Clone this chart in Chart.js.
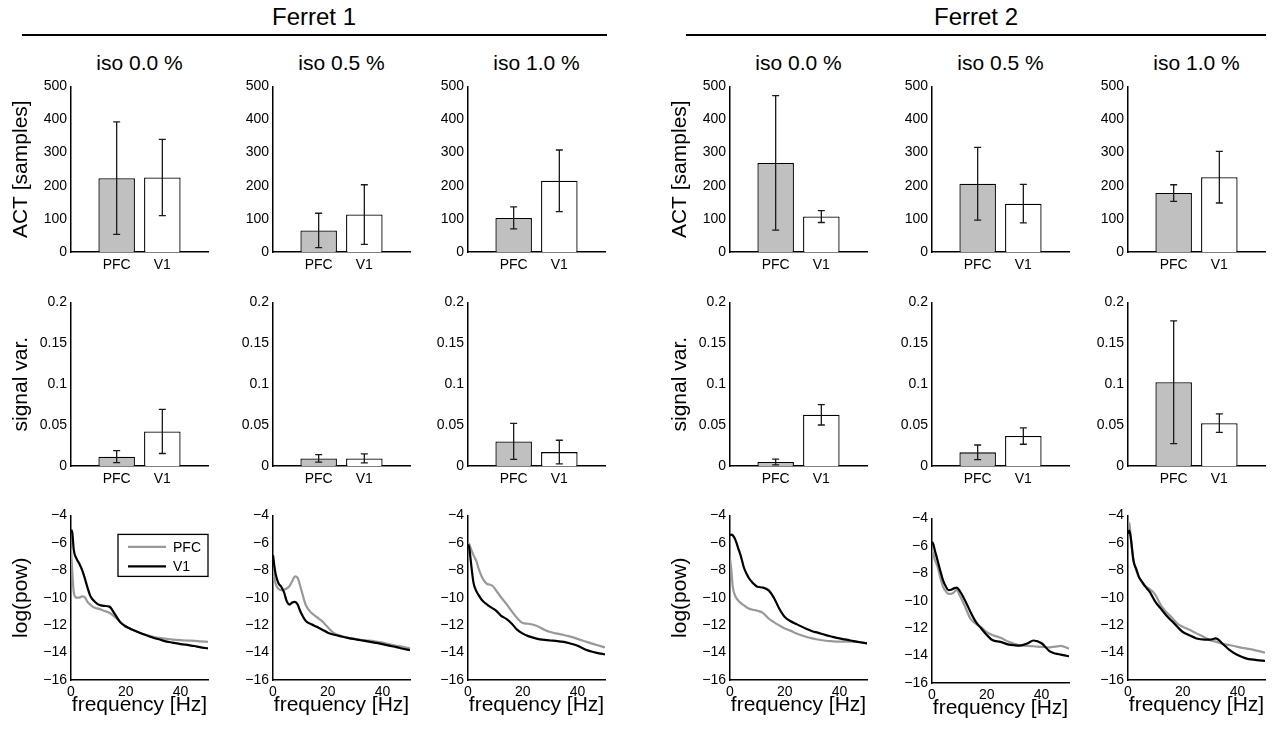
<!DOCTYPE html>
<html lang="en">
<head>
<meta charset="UTF-8">
<title>Ferret ACT, signal variance and spectra</title>
<script src="https://cdn.jsdelivr.net/npm/chart.js@4"></script>
<style>
  body { margin: 0; background: #fff; font-family: 'Liberation Sans', Arial, Helvetica, sans-serif; }
  #fig { position: relative; width: 1288px; height: 733px; overflow: hidden; }
  .panel { position: absolute; }
  .txt { position: absolute; white-space: nowrap; line-height: 1; color: #000; transform: translateX(-50%); }
  .rule { position: absolute; height: 2px; background: #000; }
</style>
</head>
<body>
<div id="fig"></div>

<script>
// ---- data ----
const ferretLabels = ['Ferret 1', 'Ferret 2'];
const isoLabels = ['iso 0.0 %', 'iso 0.5 %', 'iso 1.0 %'];
const barLabels = ['PFC', 'V1'];

// order of panels: F1 iso0.0, F1 iso0.5, F1 iso1.0, F2 iso0.0, F2 iso0.5, F2 iso1.0
const actPFC    = [223, 65, 103, 269, 206, 178];
const actPFCErr = [170, 52, 33, 203, 110, 25];
const actV1     = [225, 113, 215, 107, 146, 226];
const actV1Err  = [115, 90, 93, 18, 58, 78];

const varPFC    = [0.0114, 0.0093, 0.030, 0.0049, 0.0167, 0.1024];
const varPFCErr = [0.0073, 0.0045, 0.022, 0.0035, 0.009, 0.075];
const varV1     = [0.0423, 0.0093, 0.017, 0.0626, 0.0366, 0.0524];
const varV1Err  = [0.027, 0.0055, 0.0145, 0.0125, 0.010, 0.0113];

const freqHz = [0, 0.5, 1, 2, 3, 4, 5, 6, 7, 8, 9, 10, 12, 14, 16, 18, 20, 22, 25, 28, 30, 32, 35, 37, 40, 43, 45, 47, 50];

const powPFC = [
  [-6.4, -8.2, -9.6, -10.0, -10.0, -9.9, -9.95, -10.3, -10.5, -10.67, -10.75, -10.8, -10.95, -11.1, -11.4, -11.75, -12.1, -12.3, -12.55, -12.75, -12.85, -12.92, -13.0, -13.05, -13.1, -13.13, -13.15, -13.18, -13.22],
  [-7.0, -8.5, -9.0, -9.35, -9.45, -9.42, -9.33, -9.15, -8.8, -8.45, -8.55, -9.2, -10.55, -11.1, -11.42, -11.73, -12.15, -12.55, -12.8, -12.95, -13.0, -13.07, -13.13, -13.18, -13.28, -13.42, -13.5, -13.57, -13.7],
  [-6.0, -6.1, -6.4, -6.9, -7.3, -7.95, -8.45, -8.8, -9.0, -9.05, -9.15, -9.4, -9.95, -10.45, -11.0, -11.5, -11.85, -11.9, -12.05, -12.35, -12.5, -12.6, -12.72, -12.82, -13.0, -13.2, -13.33, -13.45, -13.62],
  [-7.15, -8.0, -9.2, -9.9, -10.2, -10.4, -10.55, -10.7, -10.8, -10.86, -10.9, -10.95, -11.1, -11.5, -11.78, -12.02, -12.24, -12.4, -12.66, -12.86, -12.97, -13.05, -13.14, -13.17, -13.2, -13.2, -13.2, -13.25, -13.33],
  [-6.3, -6.6, -7.0, -7.5, -8.3, -8.98, -9.3, -9.5, -9.5, -9.4, -9.2, -9.57, -10.4, -11.3, -11.67, -11.95, -12.3, -12.5, -12.7, -13.0, -13.15, -13.25, -13.3, -13.32, -13.37, -13.4, -13.35, -13.3, -13.5],
  [-4.5, -4.6, -5.6, -7.3, -8.0, -8.5, -8.85, -9.1, -9.25, -9.4, -9.55, -9.8, -10.55, -11.05, -11.45, -11.88, -12.12, -12.3, -12.6, -12.9, -13.1, -13.2, -13.38, -13.45, -13.58, -13.7, -13.77, -13.86, -14.0]
];
const powV1 = [
  [-5.04, -5.3, -6.5, -7.15, -7.5, -7.95, -8.55, -9.25, -9.85, -10.15, -10.35, -10.5, -10.6, -10.65, -11.2, -11.8, -12.1, -12.3, -12.55, -12.78, -12.92, -13.03, -13.2, -13.27, -13.38, -13.46, -13.52, -13.6, -13.7],
  [-6.9, -7.7, -8.3, -8.95, -9.2, -9.6, -10.25, -10.5, -10.35, -10.3, -10.5, -11.0, -11.7, -11.93, -12.12, -12.33, -12.55, -12.68, -12.83, -12.96, -13.03, -13.1, -13.2, -13.27, -13.38, -13.52, -13.6, -13.7, -13.82],
  [-6.1, -6.4, -7.3, -8.9, -9.5, -9.85, -10.15, -10.35, -10.5, -10.65, -10.78, -10.9, -11.3, -11.55, -11.9, -12.35, -12.62, -12.8, -12.98, -13.08, -13.12, -13.15, -13.22, -13.32, -13.5, -13.8, -13.92, -14.02, -14.13],
  [-5.45, -5.4, -5.45, -5.8, -6.4, -7.0, -7.76, -8.24, -8.6, -8.85, -9.05, -9.2, -9.26, -9.45, -10.0, -10.8, -11.4, -11.7, -12.0, -12.28, -12.44, -12.55, -12.73, -12.83, -12.97, -13.08, -13.16, -13.23, -13.33],
  [-5.7, -5.9, -6.3, -7.04, -7.8, -8.5, -8.95, -9.23, -9.2, -9.1, -9.05, -9.25, -9.96, -10.8, -11.54, -12.03, -12.5, -12.87, -13.0, -13.2, -13.25, -13.28, -13.1, -12.9, -13.1, -13.7, -13.85, -13.93, -14.05],
  [-5.33, -5.1, -5.6, -7.3, -7.9, -8.5, -8.8, -9.1, -9.35, -9.6, -9.95, -10.3, -10.8, -11.3, -11.7, -12.12, -12.5, -12.7, -12.97, -13.05, -13.05, -12.97, -13.45, -13.8, -14.18, -14.42, -14.5, -14.55, -14.6]
];

// ---- layout ----
const colLeft = [71, 273, 468, 730, 932, 1128];
const plotW = 137;
const rowTop = [86, 302, 515];
const rowBottom = [252, 466, 680];
const YW = 66, PR = 10, PT = 12, PB = 4;
const gray = '#999999';

Chart.defaults.font.family = "'Liberation Sans', Arial, Helvetica, sans-serif";
Chart.defaults.color = '#000';
Chart.defaults.animation = false;

const fig = document.getElementById('fig');

function addText(text, cx, top, size) {
    const d = document.createElement('div');
    d.className = 'txt';
    d.textContent = text;
    d.style.left = cx + 'px';
    d.style.top = top + 'px';
    d.style.fontSize = size + 'px';
    fig.appendChild(d);
}

function addRule(x1, x2, y) {
    const d = document.createElement('div');
    d.className = 'rule';
    d.style.left = x1 + 'px';
    d.style.width = (x2 - x1) + 'px';
    d.style.top = y + 'px';
    fig.appendChild(d);
}

function makeCanvas(left, top, w, h) {
    const div = document.createElement('div');
    div.className = 'panel';
    div.style.left = left + 'px';
    div.style.top = top + 'px';
    const cv = document.createElement('canvas');
    cv.width = w; cv.height = h;
    cv.style.width = w + 'px'; cv.style.height = h + 'px';
    div.appendChild(cv);
    fig.appendChild(div);
    return cv.getContext('2d');
}

// headers
addText(ferretLabels[0], 314, 5, 24);
addText(ferretLabels[1], 976, 5, 24);
addRule(22, 607, 34);
addRule(686, 1266, 34);
colLeft.forEach((x, c) => addText(isoLabels[c % 3], x + plotW / 2, 52, 21));

// error bars drawn through the y scale
const errorBars = {
    id: 'errorBars',
    afterDatasetsDraw(chart) {
        const ctx = chart.ctx;
        const ys = chart.scales.y;
        chart.data.datasets.forEach((ds, di) => {
            if (!ds.errors) return;
            chart.getDatasetMeta(di).data.forEach((bar, i) => {
                const v = ds.data[i].y, e = ds.errors[i];
                const yTop = ys.getPixelForValue(v + e);
                const yBot = ys.getPixelForValue(v - e);
                ctx.save();
                ctx.strokeStyle = '#1a1a1a';
                ctx.lineWidth = 1.3;
                ctx.beginPath();
                ctx.moveTo(bar.x, yTop); ctx.lineTo(bar.x, yBot);
                ctx.moveTo(bar.x - 3.5, yTop); ctx.lineTo(bar.x + 3.5, yTop);
                ctx.moveTo(bar.x - 3.5, yBot); ctx.lineTo(bar.x + 3.5, yBot);
                ctx.stroke();
                ctx.restore();
            });
        });
    }
};

// boxed legend inside the first spectrum panel
const boxLegend = {
    id: 'boxLegend',
    afterDraw(chart) {
        const ctx = chart.ctx;
        const ca = chart.chartArea;
        const w = 90, h = 42;
        const left = ca.right - w, top = ca.top + 19;
        ctx.save();
        ctx.fillStyle = '#fff';
        ctx.fillRect(left, top, w, h);
        ctx.strokeStyle = '#000';
        ctx.lineWidth = 1.3;
        ctx.strokeRect(left, top, w, h);
        const items = [[barLabels[0], gray, 12.5], [barLabels[1], '#000', 32]];
        ctx.font = "14px 'Liberation Sans', Arial, sans-serif";
        ctx.textBaseline = 'middle';
        items.forEach(([label, col, dy]) => {
            ctx.strokeStyle = col;
            ctx.lineWidth = 2.2;
            ctx.beginPath();
            ctx.moveTo(left + 10, top + dy);
            ctx.lineTo(left + 48, top + dy);
            ctx.stroke();
            ctx.fillStyle = '#000';
            ctx.fillText(label, left + 55, top + dy + 1);
        });
        ctx.restore();
    }
};

function axisBorder() {
    return { display: true, color: '#000', width: 1.5 };
}

const noGrid = { display: false, drawTicks: false, tickLength: 0 };

function barPanel(r, c, pfc, pfcErr, v1, v1Err, yMax, yStep, yTitle, fmt) {
    const axT = rowTop[r], axB = rowBottom[r];
    const XH = 26;
    const ctx = makeCanvas(colLeft[c] - YW, axT - PT, YW + plotW + PR, PT + (axB - axT) + XH + PB);
    new Chart(ctx, {
        type: 'bar',
        data: {
            datasets: [{
                data: [{ x: 1, y: pfc }, { x: 2, y: v1 }],
                errors: [pfcErr, v1Err],
                backgroundColor: ['#c0c0c0', '#ffffff'],
                borderColor: '#000',
                borderWidth: 1.3,
                categoryPercentage: 1,
                barPercentage: 0.8
            }]
        },
        options: {
            responsive: false,
            devicePixelRatio: 1,
            layout: { padding: { left: 0, right: PR, top: PT, bottom: PB } },
            plugins: { legend: { display: false }, tooltip: { enabled: false } },
            scales: {
                x: {
                    type: 'linear', min: 0, max: 3, offset: false,
                    grid: Object.assign({ offset: false }, noGrid),
                    border: axisBorder(),
                    ticks: {
                        stepSize: 1, padding: 5, autoSkip: false, maxRotation: 0,
                        font: { size: 14 }, color: '#000',
                        callback: v => (v === 1 || v === 2) ? barLabels[v - 1] : ''
                    },
                    afterFit: s => { s.height = XH; }
                },
                y: {
                    min: 0, max: yMax,
                    grid: noGrid,
                    border: axisBorder(),
                    ticks: { stepSize: yStep, padding: 4, font: { size: 14 }, color: '#000', callback: fmt },
                    title: {
                        display: c === 0 || c === 3, text: yTitle,
                        font: { size: 21 }, color: '#000', padding: { top: 4, bottom: 4 }
                    },
                    afterFit: s => { s.width = YW; }
                }
            }
        },
        plugins: [errorBars]
    });
}

function spectrumPanel(c) {
    const axT = c === 4 ? rowTop[2] + 3 : rowTop[2];
    const axB = c === 4 ? rowBottom[2] + 3 : rowBottom[2];
    const XH = 42;
    const ctx = makeCanvas(colLeft[c] - YW, axT - PT, YW + plotW + PR, PT + (axB - axT) + XH + PB);
    const pts = arr => freqHz.map((f, i) => ({ x: f, y: arr[i] }));
    new Chart(ctx, {
        type: 'line',
        data: {
            datasets: [
                { label: barLabels[1], data: pts(powV1[c]), borderColor: '#000', order: 0 },
                { label: barLabels[0], data: pts(powPFC[c]), borderColor: gray, order: 1 }
            ]
        },
        options: {
            responsive: false,
            devicePixelRatio: 1,
            layout: { padding: { left: 0, right: PR, top: PT, bottom: PB } },
            elements: {
                line: { borderWidth: 2.2, cubicInterpolationMode: 'monotone', fill: false },
                point: { radius: 0 }
            },
            plugins: { legend: { display: false }, tooltip: { enabled: false } },
            scales: {
                x: {
                    type: 'linear', min: 0, max: 50,
                    grid: noGrid,
                    border: axisBorder(),
                    ticks: { stepSize: 20, includeBounds: false, padding: 4, maxRotation: 0, font: { size: 14 }, color: '#000' },
                    title: { display: true, text: 'frequency [Hz]', font: { size: 21 }, color: '#000', padding: { top: 0, bottom: 4 } },
                    afterFit: s => { s.height = XH; }
                },
                y: {
                    min: -16, max: -4,
                    grid: noGrid,
                    border: axisBorder(),
                    ticks: {
                        stepSize: 2, padding: 4, font: { size: 14 }, color: '#000',
                        callback: v => String(v).replace('-', '\u2212')
                    },
                    title: {
                        display: c === 0 || c === 3, text: 'log(pow)',
                        font: { size: 21 }, color: '#000', padding: { top: 4, bottom: 4 }
                    },
                    afterFit: s => { s.width = YW; }
                }
            }
        },
        plugins: c === 0 ? [boxLegend] : []
    });
}

const intFmt = v => String(v);
const decFmt = v => String(+v.toFixed(2));

for (let c = 0; c < 6; c++) {
    barPanel(0, c, actPFC[c], actPFCErr[c], actV1[c], actV1Err[c], 500, 100, 'ACT [samples]', intFmt);
    barPanel(1, c, varPFC[c], varPFCErr[c], varV1[c], varV1Err[c], 0.2, 0.05, 'signal var.', decFmt);
    spectrumPanel(c);
}
</script>
</body>
</html>
